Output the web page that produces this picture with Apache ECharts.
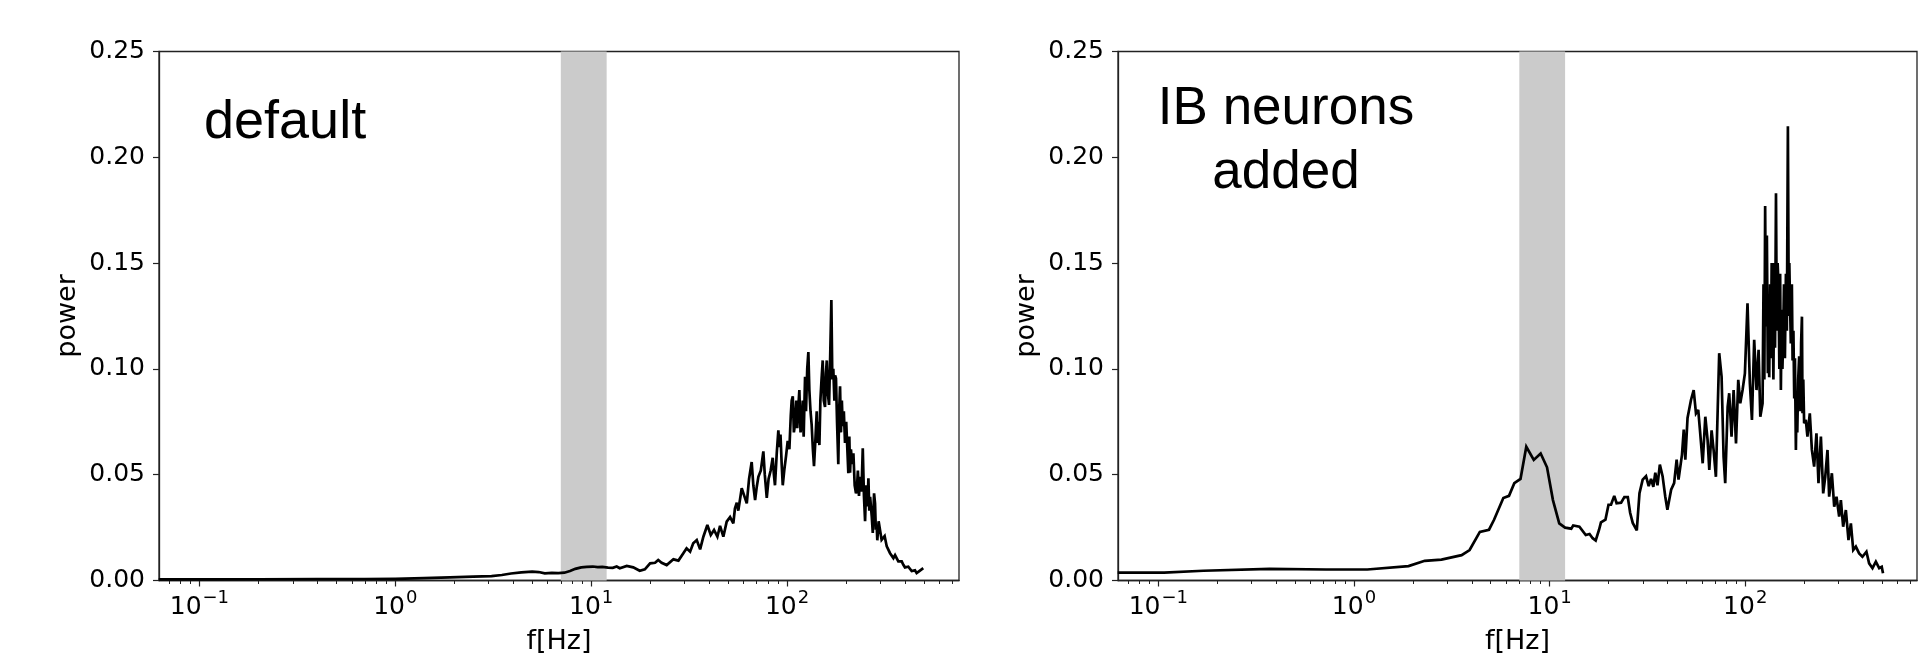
<!DOCTYPE html>
<html>
<head>
<meta charset="utf-8">
<script src="https://cdn.jsdelivr.net/npm/echarts@6/dist/echarts.min.js"></script>
<style>
  html, body { margin: 0; padding: 0; background: #fff; }
  #chart { width: 1921px; height: 659px; }
</style>
</head>
<body>
<div id="chart"></div>
<script>
// spectrum, "default" network
var defaultFreq = [0.062, 0.1, 0.2, 0.4, 0.7, 1.0, 1.4, 1.9, 2.5, 3.1, 3.5, 3.9, 4.4, 5.0, 5.4, 5.8, 6.3, 6.8, 7.3, 7.8,
  8.3, 8.9, 9.5, 10.2, 10.8, 11.4, 12.2, 12.9, 13.5, 14.0, 15.2, 16.4, 17.7, 18.8, 20.0, 21.2, 22.0, 22.9, 24.3, 26.3,
  27.9, 29.5, 30.7, 32.0, 33.2, 34.6, 36.0, 37.4, 39.2, 40.8, 42.4, 44.1, 45.5, 47.3, 49.2, 51.2, 53.2, 54.2, 55.4, 56.4,
  58.7, 60.5, 62.3, 64.0, 66.0, 67.3, 68.7, 70.0, 71.4, 73.5, 75.7, 77.0, 78.8, 80.5, 82.5, 84.5, 85.7, 86.8, 88.6, 90.3,
  91.5, 92.6, 93.9, 95.1, 96.8, 98.9, 100.8, 102.8, 104.5, 105.6, 107.0, 108.4, 109.9, 111.5, 112.8, 114.2, 115.6, 117.2, 118.9, 120.3,
  121.6, 123.6, 125.0, 126.8, 128.5, 130.0, 131.8, 133.6, 135.5, 137.3, 139.5, 141.8, 143.0, 144.5, 146.3, 148.0, 150.0, 152.1, 154.0, 156.3,
  158.0, 159.6, 161.8, 163.9, 166.0, 168.4, 170.3, 172.3, 174.5, 176.0, 177.8, 180.0, 182.7, 184.5, 186.5, 188.5, 190.5, 192.4, 195.0, 197.7,
  200.5, 203.2, 205.6, 208.0, 209.8, 212.0, 215.0, 218.2, 221.5, 224.9, 227.1, 230.0, 233.0, 236.1, 240.0, 243.6, 247.0, 250.3, 253.5, 257.3,
  260.3, 263.0, 265.6, 270.8, 274.0, 278.2, 281.4, 284.0, 287.1, 289.0, 293.5, 298.5, 304.0, 310.5, 315.0, 322.9, 328.0, 335.7, 342.0, 349.2,
  356.0, 363.1, 370.0, 377.5, 385.0, 392.5, 400.0, 408.2, 416.0, 424.4, 433.0, 441.3, 450.0, 458.8, 468.0, 477.1, 487.0, 496.1];
var defaultPower = [0.0005, 0.0005, 0.0006, 0.0007, 0.0007, 0.0008, 0.0011, 0.0015, 0.0018, 0.0021, 0.0026, 0.0033, 0.0038, 0.0042, 0.0040, 0.0034, 0.0036, 0.0035, 0.0037, 0.0045,
  0.0055, 0.0062, 0.0064, 0.0066, 0.0063, 0.0064, 0.0061, 0.0060, 0.0066, 0.0058, 0.0069, 0.0062, 0.0046, 0.0053, 0.0081, 0.0084, 0.0097, 0.0084, 0.0073, 0.0100,
  0.0094, 0.0128, 0.0152, 0.0136, 0.0176, 0.0191, 0.0147, 0.0207, 0.0262, 0.0215, 0.0239, 0.0207, 0.0258, 0.0207, 0.0278, 0.0300, 0.0270, 0.0340, 0.0368, 0.0330,
  0.0436, 0.0400, 0.0365, 0.0480, 0.0560, 0.0450, 0.0380, 0.0440, 0.0490, 0.0520, 0.0610, 0.0500, 0.0390, 0.0480, 0.0520, 0.0580, 0.0500, 0.0450, 0.0600, 0.0710,
  0.0630, 0.0690, 0.0550, 0.0450, 0.0520, 0.0590, 0.0660, 0.0620, 0.0780, 0.0850, 0.0870, 0.0700, 0.0740, 0.0850, 0.0720, 0.0820, 0.0900, 0.0700, 0.0750, 0.0850,
  0.0680, 0.0963, 0.0800, 0.1000, 0.1080, 0.0900, 0.0800, 0.0735, 0.0620, 0.0540, 0.0660, 0.0800, 0.0650, 0.0750, 0.0640, 0.0850, 0.0950, 0.1040, 0.0850, 0.0820,
  0.0980, 0.1040, 0.0880, 0.0830, 0.1050, 0.1326, 0.0950, 0.1000, 0.0850, 0.0970, 0.0955, 0.0750, 0.0550, 0.0800, 0.0918, 0.0700, 0.0850, 0.0730, 0.0800, 0.0650,
  0.0750, 0.0745, 0.0507, 0.0680, 0.0510, 0.0620, 0.0550, 0.0601, 0.0450, 0.0412, 0.0425, 0.0520, 0.0400, 0.0490, 0.0420, 0.0625, 0.0400, 0.0280, 0.0450, 0.0350,
  0.0483, 0.0330, 0.0395, 0.0302, 0.0225, 0.0412, 0.0365, 0.0240, 0.0255, 0.0190, 0.0280, 0.0286, 0.0192, 0.0192, 0.0210, 0.0161, 0.0170, 0.0129, 0.0120, 0.0106,
  0.0120, 0.0113, 0.0090, 0.0082, 0.0090, 0.0074, 0.0062, 0.0058, 0.0065, 0.0058, 0.0045, 0.0042, 0.0048, 0.0035, 0.0042, 0.0047, 0.0040, 0.0058];

// spectrum, IB neurons added
var ibFreq = [0.062, 0.107, 0.17, 0.37, 0.72, 1.17, 1.9, 2.3, 2.8, 3.55, 3.9, 4.4, 4.9, 5.2, 5.8, 6.2, 6.6, 7.1, 7.6, 8.3,
  9.0, 9.7, 10.4, 11.2, 12.0, 12.9, 13.2, 14.2, 15.3, 16.0, 16.6, 17.2, 17.9, 18.3, 19.3, 20.0, 20.6, 21.4, 22.0, 23.2,
  24.1, 25.1, 25.8, 26.6, 27.9, 28.8, 29.9, 31.1, 32.1, 33.0, 33.9, 34.7, 35.6, 36.6, 37.8, 39.0, 40.0, 41.8, 43.3, 44.6,
  45.6, 47.5, 48.5, 49.4, 50.7, 52.8, 54.5, 56.0, 57.5, 58.7, 60.6, 62.5, 64.2, 65.5, 67.3, 68.9, 70.8, 73.6, 75.7, 77.5,
  79.0, 81.3, 82.8, 85.1, 87.2, 89.7, 92.1, 94.3, 96.9, 99.6, 102.7, 105.6, 108.2, 111.1, 114.2, 117.0, 119.4, 122.6, 124.0, 125.2,
  126.4, 127.5, 129.0, 130.5, 131.6, 132.6, 134.0, 135.2, 136.5, 138.0, 139.3, 140.7, 142.0, 143.6, 145.0, 146.4, 148.0, 149.4, 150.8, 152.1,
  153.5, 154.9, 156.3, 157.8, 159.5, 161.4, 163.2, 165.2, 166.9, 168.0, 169.1, 171.0, 173.1, 174.6, 176.3, 178.0, 179.5, 181.5, 182.8, 184.5,
  186.5, 188.7, 190.0, 191.5, 193.0, 194.9, 196.2, 198.0, 200.0, 204.0, 207.9, 213.8, 219.1, 225.0, 231.2, 236.8, 243.6, 250.3, 256.4, 263.3,
  268.5, 277.2, 284.9, 292.7, 302.0, 308.2, 316.6, 326.8, 337.1, 346.7, 356.5, 367.6, 382.1, 397.2, 416.4, 429.8, 447.1, 465.2, 483.6, 498.5, 506.0];
var ibPower = [0.0037, 0.0037, 0.0046, 0.0055, 0.0052, 0.0052, 0.0068, 0.0093, 0.0099, 0.0120, 0.0144, 0.0230, 0.0240, 0.0287, 0.0390, 0.0400, 0.0460, 0.0480, 0.0632, 0.0570,
  0.0600, 0.0535, 0.0380, 0.0270, 0.0250, 0.0245, 0.0260, 0.0254, 0.0215, 0.0220, 0.0200, 0.0189, 0.0240, 0.0275, 0.0288, 0.0358, 0.0358, 0.0400, 0.0365, 0.0368,
  0.0394, 0.0394, 0.0320, 0.0272, 0.0237, 0.0413, 0.0477, 0.0493, 0.0446, 0.0480, 0.0443, 0.0509, 0.0450, 0.0548, 0.0493, 0.0397, 0.0334, 0.0429, 0.0460, 0.0571,
  0.0477, 0.0595, 0.0713, 0.0571, 0.0768, 0.0853, 0.0900, 0.0790, 0.0806, 0.0710, 0.0554, 0.0774, 0.0664, 0.0522, 0.0710, 0.0617, 0.0490, 0.1074, 0.0963, 0.0585,
  0.0460, 0.0821, 0.0885, 0.0680, 0.0900, 0.0648, 0.0948, 0.0837, 0.0900, 0.0979, 0.1310, 0.0932, 0.0759, 0.1137, 0.0900, 0.1090, 0.0774, 0.0837, 0.1400, 0.0950,
  0.1770, 0.1200, 0.1630, 0.0980, 0.1350, 0.0960, 0.1400, 0.1050, 0.1500, 0.1270, 0.0950, 0.1500, 0.1100, 0.1830, 0.1180, 0.1500, 0.1390, 0.1000, 0.1450, 0.0900,
  0.1280, 0.1000, 0.1160, 0.1400, 0.1050, 0.1450, 0.1180, 0.2147, 0.1250, 0.1500, 0.1350, 0.1120, 0.1400, 0.1040, 0.1180, 0.0860, 0.1050, 0.0617, 0.0853, 0.0700,
  0.0950, 0.1060, 0.1040, 0.0800, 0.1120, 0.1247, 0.0790, 0.0950, 0.0743, 0.0759, 0.0680, 0.0790, 0.0617, 0.0538, 0.0696, 0.0460, 0.0680, 0.0412, 0.0490, 0.0617,
  0.0396, 0.0507, 0.0349, 0.0396, 0.0302, 0.0380, 0.0254, 0.0333, 0.0191, 0.0270, 0.0144, 0.0160, 0.0128, 0.0112, 0.0136, 0.0081, 0.0058, 0.0089, 0.0058, 0.0065, 0.0034];

var xMin = 0.0622;
var xMax = 755;
var majorTicks = [0.1, 1, 10, 100];
var minorTicks = [0.07, 0.08, 0.09, 0.2, 0.3, 0.4, 0.5, 0.6, 0.7, 0.8, 0.9, 2, 3, 4, 5, 6, 7, 8, 9,
  20, 30, 40, 50, 60, 70, 80, 90, 200, 300, 400, 500, 600, 700];
var bandRange = [7, 12]; // L5 band, Hz
var panelTitles = ['default', 'IB neurons\nadded'];

// 10^n labels, mathtext style
function powLabel(v) {
  var e = Math.round(Math.log10(v));
  return '{b|10}{s|' + (e < 0 ? '\u2212' + (-e) : e) + '}';
}

var tickFont = { fontFamily: 'DejaVu Sans', fontSize: 25, color: '#000' };
var nameFont = { fontFamily: 'DejaVu Sans', fontSize: 27, color: '#000' };

function zip(xs, ys) {
  return xs.map(function (x, i) { return [x, ys[i]]; });
}

var grids = [
  { left: 159, top: 51.5, width: 800, height: 529 },
  { left: 1118, top: 51.5, width: 799, height: 529 }
];

var chart = echarts.init(document.getElementById('chart'), null, { renderer: 'canvas' });

var xAxes = [], yAxes = [], series = [];
grids.forEach(function (g, i) {
  // major ticks + labels
  xAxes.push({
    type: 'log', gridIndex: i, min: xMin, max: xMax, position: 'bottom',
    name: 'f[Hz]', nameLocation: 'middle', nameGap: 48, nameTextStyle: nameFont,
    axisLine: { show: true, lineStyle: { color: '#222', width: 1.3 } },
    axisTick: { show: true, length: 6, customValues: majorTicks, lineStyle: { color: '#222', width: 1.2 } },
    axisLabel: {
      margin: 9, customValues: majorTicks, formatter: powLabel,
      rich: {
        b: { fontFamily: 'DejaVu Sans', fontSize: 25, color: '#000', lineHeight: 30, verticalAlign: 'bottom' },
        s: { fontFamily: 'DejaVu Sans', fontSize: 18, color: '#000', lineHeight: 30, verticalAlign: 'top', padding: [0, 0, 0, 1] }
      }
    },
    splitLine: { show: false }
  });
  // minor ticks
  xAxes.push({
    type: 'log', gridIndex: i, min: xMin, max: xMax, position: 'bottom',
    axisLine: { show: false },
    axisTick: { show: true, length: 3.5, customValues: minorTicks, lineStyle: { color: '#222', width: 1 } },
    axisLabel: { show: false },
    splitLine: { show: false }
  });
  yAxes.push({
    type: 'value', gridIndex: i, min: 0, max: 0.25, interval: 0.05,
    name: 'power', nameLocation: 'middle', nameGap: 78, nameTextStyle: nameFont,
    axisLine: { show: true, lineStyle: { color: '#222', width: 1.3 } },
    axisTick: { show: true, length: 6, lineStyle: { color: '#222', width: 1.2 } },
    axisLabel: Object.assign({ margin: 14, formatter: function (v) { return v.toFixed(2); } }, tickFont),
    splitLine: { show: false }
  });
});

[zip(defaultFreq, defaultPower), zip(ibFreq, ibPower)].forEach(function (data, i) {
  series.push({
    type: 'line', xAxisIndex: i * 2, yAxisIndex: i, data: data,
    showSymbol: false, symbol: 'none', smooth: false, sampling: null,
    lineStyle: { color: '#000', width: 2.7, join: 'miter', miterLimit: 3 }, z: 5,
    markArea: {
      silent: true,
      itemStyle: { color: '#cbcbcb' },
      data: [[{ xAxis: bandRange[0] }, { xAxis: bandRange[1] }]]
    },
    markLine: {
      silent: true, symbol: 'none',
      lineStyle: { opacity: 0 },
      label: { show: true, position: 'end', distance: 7, formatter: 'L5', fontFamily: 'DejaVu Sans', fontSize: 24, color: '#000' },
      data: [{ xAxis: bandRange[0] }]
    }
  });
});

chart.setOption({
  backgroundColor: '#fff',
  animation: false,
  grid: grids.map(function (g) {
    return Object.assign({ show: true, borderColor: '#222', borderWidth: 1.3, backgroundColor: 'transparent', containLabel: false, outerBoundsMode: 'none' }, g);
  }),
  xAxis: xAxes,
  yAxis: yAxes,
  series: series,
  graphic: [
    { type: 'text', x: 204, y: 96, style: { text: panelTitles[0], fontFamily: 'Liberation Sans', fontSize: 54, fill: '#000', align: 'left', verticalAlign: 'top' } },
    { type: 'text', x: 1286, y: 77, style: { text: panelTitles[1], fontFamily: 'Liberation Sans', fontSize: 53, lineHeight: 64, fill: '#000', align: 'center', verticalAlign: 'top' } }
  ]
});
</script>
</body>
</html>
